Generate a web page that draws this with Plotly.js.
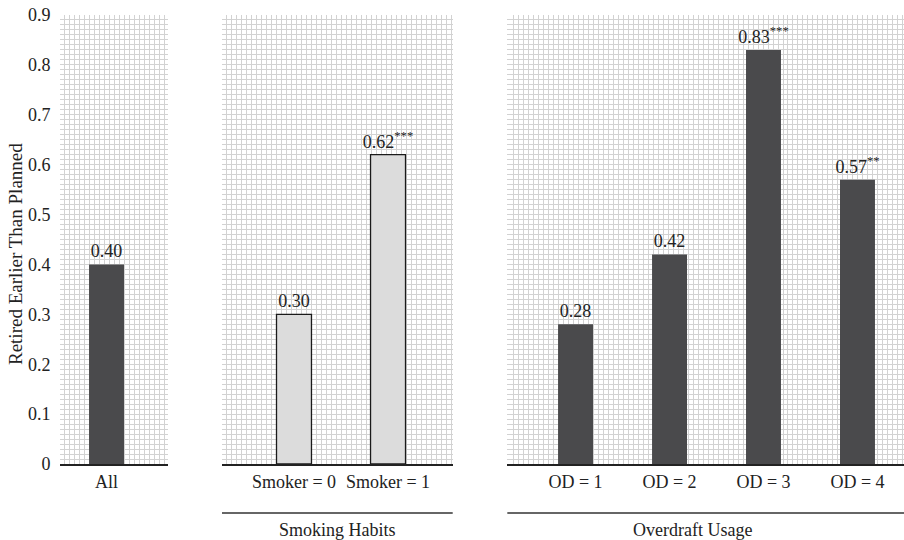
<!DOCTYPE html>
<html>
<head>
<meta charset="utf-8">
<script src="https://cdn.plot.ly/plotly-3.0.1.min.js"></script>
<style>html,body{margin:0;padding:0;background:#fff;}#chart{width:904px;height:540px;}</style>
</head>
<body>
<div id="chart"></div>
<script>
// ---- data ----
const allCats = ["All"];
const allVals = [0.40];
const allSig = [""];

const smokeCats = ["Smoker = 0", "Smoker = 1"];
const smokeVals = [0.30, 0.62];
const smokeSig = ["", "***"];

const odCats = ["OD = 1", "OD = 2", "OD = 3", "OD = 4"];
const odVals = [0.28, 0.42, 0.83, 0.57];
const odSig = ["", "", "***", "**"];

const groupLabels = ["Smoking Habits", "Overdraft Usage"];
const yTitle = "Retired Earlier Than Planned";

// ---- styling ----
const FONT = "'Liberation Serif', 'Times New Roman', 'DejaVu Serif', serif";
const FS = 18;
const DARK = "#4a4a4c";
const LIGHT = "#dcdcdc";
const GRID = "#d2d2d2";
const GW = 1;
const BARW = 0.372;
const GSTEP = 5 / 94;

function lbl(vals, sig) {
  return vals.map((v, i) => v.toFixed(2) + (sig[i] ? "<sup>" + sig[i] + "</sup>" : ""));
}
function idx(a) { return a.map((_, i) => i); }

function barTrace(cats, vals, sig, xa, fill, outline) {
  return {
    type: "bar",
    x: idx(cats),
    y: vals,
    xaxis: xa,
    yaxis: "y",
    width: BARW,
    marker: { color: fill, line: { color: outline ? "#1a1a1a" : fill, width: outline ? 1.3 : 0 } },
    text: lbl(vals, sig),
    textposition: "outside",
    constraintext: "none",
    textfont: { family: FONT, size: FS, color: "#222" },
    cliponaxis: false,
    hoverinfo: "skip",
    showlegend: false
  };
}

const data = [
  barTrace(allCats, allVals, allSig, "x", DARK, false),
  barTrace(smokeCats, smokeVals, smokeSig, "x2", LIGHT, true),
  barTrace(odCats, odVals, odSig, "x3", DARK, false)
];

function xAxis(cats, domain, range) {
  return {
    domain: domain,
    range: range,
    type: "linear",
    anchor: "y",
    tickmode: "array",
    tickvals: idx(cats),
    ticktext: cats,
    showgrid: false,
    zeroline: false,
    showline: true,
    linecolor: "#222",
    linewidth: 1.5,
    ticks: "outside",
    ticklen: 1,
    tickcolor: "rgba(0,0,0,0)",
    tickfont: { family: FONT, size: FS, color: "#222" },
    minor: { tickmode: "linear", tick0: -0.1862, dtick: GSTEP, showgrid: true, gridcolor: GRID, gridwidth: GW, ticks: "" },
    fixedrange: true
  };
}

const layout = {
  width: 904,
  height: 540,
  margin: { l: 60, r: 0, t: 15, b: 76 },
  paper_bgcolor: "#fff",
  plot_bgcolor: "#fff",
  font: { family: FONT, size: FS, color: "#222" },
  xaxis: xAxis(allCats, [0, 0.1276], [-0.495, 0.651]),
  xaxis2: xAxis(smokeCats, [0.1919, 0.4653], [-0.766, 1.688]),
  xaxis3: xAxis(odCats, [0.5300, 1], [-0.726, 3.495]),
  yaxis: {
    anchor: "x",
    range: [0, 0.9],
    dtick: 0.1,
    tick0: 0,
    showgrid: true,
    gridcolor: GRID,
    gridwidth: GW,
    zeroline: false,
    showline: false,
    ticks: "outside",
    ticklen: 5,
    tickcolor: "rgba(0,0,0,0)",
    tickfont: { family: FONT, size: FS, color: "#222" },
    minor: { dtick: 0.01, showgrid: true, gridcolor: GRID, gridwidth: GW, ticks: "" },
    fixedrange: true
  },
  shapes: [
    { type: "line", xref: "x2 domain", yref: "paper", x0: 0, x1: 1, y0: -0.109, y1: -0.109, line: { color: "#333", width: 1.5 } },
    { type: "line", xref: "x3 domain", yref: "paper", x0: 0, x1: 1, y0: -0.109, y1: -0.109, line: { color: "#333", width: 1.5 } }
  ],
  annotations: [
    { text: yTitle, xref: "paper", yref: "paper", x: -0.0533, y: 0.4677, textangle: -90, xanchor: "center", yanchor: "middle", showarrow: false, font: { family: FONT, size: 19, color: "#222" } },
    { text: groupLabels[0], xref: "x2 domain", yref: "paper", x: 0.5, y: -0.147, xanchor: "center", yanchor: "middle", showarrow: false, font: { family: FONT, size: FS, color: "#222" } },
    { text: groupLabels[1], xref: "x3 domain", yref: "paper", x: 0.468, y: -0.147, xanchor: "center", yanchor: "middle", showarrow: false, font: { family: FONT, size: FS, color: "#222" } }
  ]
};

Plotly.newPlot("chart", data, layout, { staticPlot: true, displayModeBar: false });
</script>
</body>
</html>
